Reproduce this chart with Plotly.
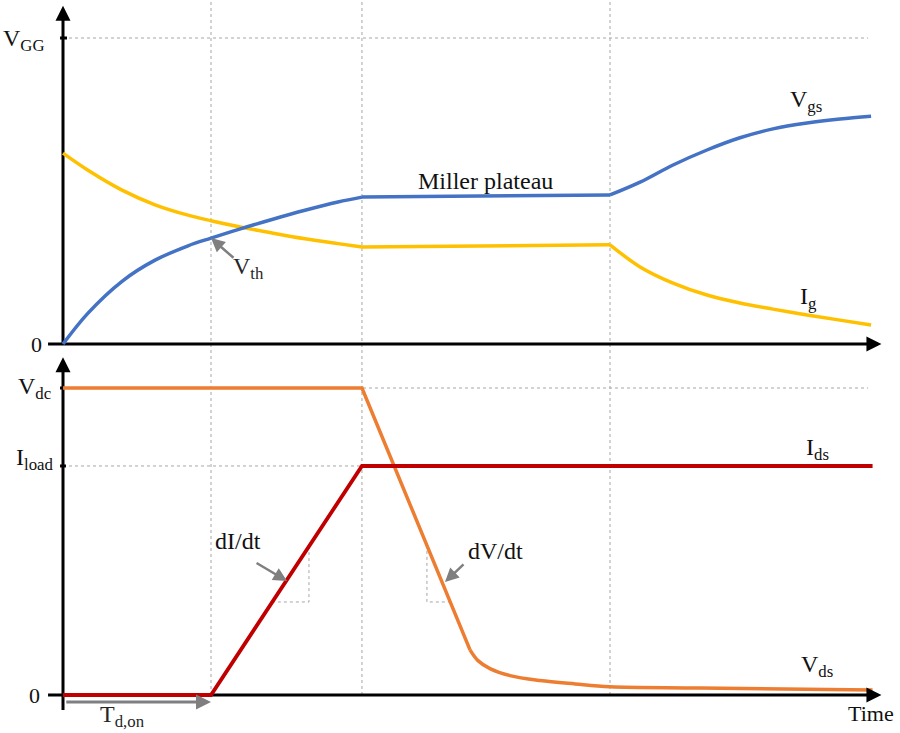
import plotly.graph_objects as go

# ---- gate side (upper panel), time in ns, voltage / current in arbitrary units ----
t_gate = [0, 1.69, 3.99, 6.22, 8.45, 10.0, 11.82, 14.12, 16.35, 18.58, 20.2,
          36.96, 38.99, 41.22, 43.51, 45.74, 47.97, 50.27, 52.5, 54.6]
vgs = [0, 1.01, 2.05, 2.74, 3.21, 3.46, 3.74, 4.07, 4.37, 4.64, 4.80,
       4.87, 5.29, 5.85, 6.34, 6.74, 7.03, 7.22, 7.35, 7.44]
ig = [6.24, 5.68, 5.03, 4.55, 4.21, 4.03, 3.84, 3.63, 3.44, 3.28, 3.17,
      3.24, 2.52, 1.99, 1.60, 1.34, 1.14, 0.95, 0.78, 0.62]

# ---- drain side (lower panel) ----
t_ids = [0, 10.0, 20.2, 54.7]
ids = [0, 0, 7.46, 7.46]
t_vds = [0, 20.2, 27.5, 28.04, 28.85, 30.2, 32.23, 34.6, 36.96, 43.04, 54.7]
vds = [10, 10, 1.47, 1.12, 0.86, 0.63, 0.47, 0.36, 0.27, 0.23, 0.16]

# switching instants: threshold reached, Miller plateau start / end
t_events = [10.0, 20.2, 36.96]
VGG = 10.0
VDC = 10.0
ILOAD = 7.46

BLUE = "#4472C4"
YELLOW = "#FFC000"
ORANGE = "#ED7D31"
RED = "#C00000"
GRAY = "#7F7F7F"
GRID = "#A6A6A6"
FONT = "Liberation Serif"

fig = go.Figure()


def add_piecewise(t, v, breaks, color, yaxis, smooth_flags, width=3.5):
    """Draw a waveform as consecutive pieces split at the given break times,
    so that corners stay sharp while curved parts are smoothed."""
    cuts = [0] + [t.index(b) for b in breaks] + [len(t) - 1]
    for k in range(len(cuts) - 1):
        a, b = cuts[k], cuts[k + 1]
        fig.add_trace(go.Scatter(
            x=t[a:b + 1], y=v[a:b + 1], mode="lines", yaxis=yaxis,
            line=dict(color=color, width=width,
                      shape="spline" if smooth_flags[k] else "linear",
                      smoothing=1.0),
            showlegend=False, hoverinfo="skip"))


add_piecewise(t_gate, ig, [20.2, 36.96], YELLOW, "y", [True, False, True])
add_piecewise(t_gate, vgs, [20.2, 36.96], BLUE, "y", [True, False, True])
add_piecewise(t_vds, vds, [27.5], ORANGE, "y2", [False, True])
add_piecewise(t_ids, ids, [], RED, "y2", [False], width=3.8)

shapes = []
dash = dict(color=GRID, width=1, dash="3px,3px")

# vertical event markers through both panels
for te in t_events:
    shapes.append(dict(type="line", xref="x", yref="paper", x0=te, x1=te,
                       y0=1 - 695 / 733, y1=1, line=dash, layer="below"))
# horizontal reference levels
shapes.append(dict(type="line", xref="x", yref="y", x0=0, x1=54.4,
                   y0=VGG, y1=VGG, line=dash, layer="below"))
shapes.append(dict(type="line", xref="x", yref="y2", x0=0, x1=54.4,
                   y0=VDC, y1=VDC, line=dash, layer="below"))
shapes.append(dict(type="line", xref="x", yref="y2", x0=0, x1=54.4,
                   y0=ILOAD, y1=ILOAD, line=dash, layer="below"))
# slope guide triangles
shapes.append(dict(type="path", xref="x", yref="y2",
                   path="M 16.62 4.85 L 16.62 3.03 L 14.12 3.03",
                   line=dash, layer="below"))
shapes.append(dict(type="path", xref="x", yref="y2",
                   path="M 24.59 4.89 L 24.59 3.03 L 26.28 3.03",
                   line=dash, layer="below"))

# axis lines
axis = dict(color="black", width=3)
shapes += [
    dict(type="line", xref="x", yref="y", x0=0, x1=0, y0=0, y1=10.9, line=axis, layer="below"),
    dict(type="line", xref="x", yref="y", x0=-1.01, x1=54.9, y0=0, y1=0, line=axis, layer="below"),
    dict(type="line", xref="x", yref="y2", x0=0, x1=0, y0=-0.49, y1=10.8, line=axis, layer="below"),
    dict(type="line", xref="x", yref="y2", x0=-1.01, x1=54.9, y0=0, y1=0, line=axis, layer="below"),
    dict(type="line", xref="x", yref="y", x0=-0.2, x1=0.27, y0=VGG, y1=VGG, line=axis, layer="below"),
    dict(type="line", xref="x", yref="y2", x0=-0.2, x1=0, y0=VDC, y1=VDC, line=axis, layer="below"),
    dict(type="line", xref="x", yref="y2", x0=-0.2, x1=0.2, y0=ILOAD, y1=ILOAD, line=axis, layer="below"),
]

ann = []


def head(x, y, yref, ax, ay):
    ann.append(dict(x=x, y=y, xref="x", yref=yref, ax=ax, ay=ay, text="",
                    showarrow=True, arrowhead=2, arrowsize=1, arrowwidth=3,
                    arrowcolor="black", standoff=0))


head(0, 11.05, "y", 0, 16)
head(55.3, 0, "y", -16, 0)
head(0, 11.0, "y2", 0, 16)
head(55.3, 0, "y2", -16, 0)


def label(text, x, y, yref, xanchor="center", size=24, color="#111111"):
    ann.append(dict(x=x, y=y, xref="x", yref=yref, text=text, showarrow=False,
                    xanchor=xanchor, yanchor="middle",
                    font=dict(family=FONT, size=size, color=color)))


label("V<sub>GG</sub>", -1.08, 9.95, "y", xanchor="right")
label("0", -1.28, 0, "y", xanchor="right", size=22)
label("V<sub>dc</sub>", -0.68, 10.0, "y2", xanchor="right")
label("I<sub>load</sub>", -0.47, 7.7, "y2", xanchor="right")
label("0", -1.42, 0, "y2", xanchor="right", size=22)
label("Miller plateau", 28.58, 5.33, "y")
label("V<sub>gs</sub>", 50.2, 7.95, "y")
label("I<sub>g</sub>", 50.34, 1.5, "y")
label("V<sub>th</sub>", 12.5, 2.48, "y", color="#262626")
label("I<sub>ds</sub>", 50.95, 8.0, "y2")
label("V<sub>ds</sub>", 50.95, 0.94, "y2")
label("Time", 54.6, -0.59, "y2", size=22)
label("T<sub>d,on</sub>", 4.05, -0.68, "y2", color="#262626")
label("dI/dt", 11.82, 5.02, "y2")
label("dV/dt", 29.19, 4.69, "y2")

# gray pointer arrows
for x, y, yref, ax, ay in [(10.0, 3.46, "y", 24, 21),
                           (15.14, 3.71, "y2", -32, -19),
                           (25.81, 3.68, "y2", 20, -19)]:
    ann.append(dict(x=x, y=y, xref="x", yref=yref, ax=ax, ay=ay, text="",
                    showarrow=True, arrowhead=2, arrowsize=1.1, arrowwidth=2.5,
                    arrowcolor=GRAY, standoff=0))
ann.append(dict(x=t_events[0], y=-0.228, xref="x", yref="y2", ax=0.12, ay=-0.228,
                axref="x", ayref="y2", text="", showarrow=True, arrowhead=2,
                arrowsize=1, arrowwidth=3, arrowcolor=GRAY, standoff=0))

fig.update_layout(
    width=900, height=733,
    margin=dict(l=0, r=0, t=0, b=0),
    paper_bgcolor="white", plot_bgcolor="white",
    xaxis=dict(range=[-63 / 14.8, (900 - 63) / 14.8], visible=False, fixedrange=True),
    yaxis=dict(domain=[1 - 350 / 733, 1], range=[-6 / 30.6, 344 / 30.6], visible=False),
    yaxis2=dict(domain=[0, 1 - 350 / 733], range=[-38 / 30.7, 345 / 30.7], visible=False),
    shapes=shapes, annotations=ann,
)

fig.write_html("out.html")
